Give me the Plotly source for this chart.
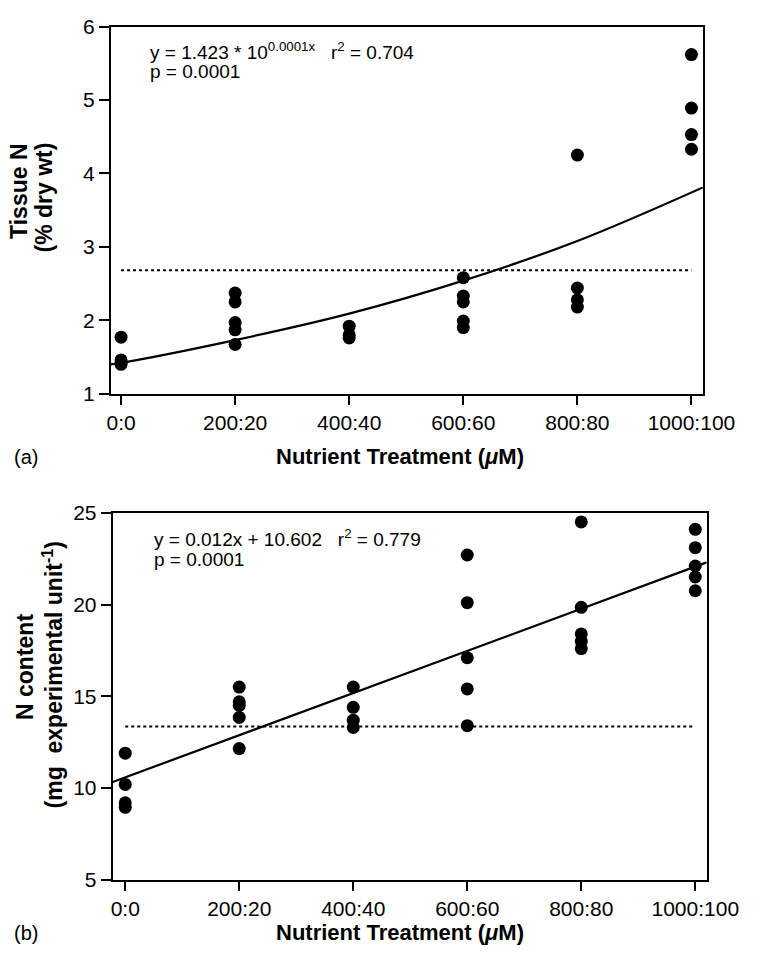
import plotly.graph_objects as go

# ---------------- data ----------------
treat_vals = [0, 200, 400, 600, 800, 1000]
treat_labels = ["0:0", "200:20", "400:40", "600:60", "800:80", "1000:100"]

# panel (a) Tissue N (% dry wt)
a_x = [0, 0, 0, 0,
       200, 200, 200, 200, 200,
       400, 400, 400,
       600, 600, 600, 600, 600,
       800, 800, 800, 800,
       1000, 1000, 1000, 1000]
a_y = [1.77, 1.46, 1.42, 1.40,
       2.37, 2.25, 1.97, 1.87, 1.67,
       1.92, 1.80, 1.76,
       2.58, 2.33, 2.25, 1.99, 1.90,
       4.25, 2.44, 2.28, 2.18,
       5.62, 4.89, 4.53, 4.33]
a_fit_x = [-18, 0, 200, 400, 600, 800, 1020]
a_fit_y = [1.40, 1.42, 1.73, 2.09, 2.54, 3.08, 3.81]
a_ref_x = [0, 1000]
a_ref_y = [2.68, 2.68]

# panel (b) N content (mg experimental unit-1)
b_x = [0, 0, 0, 0,
       200, 200, 200, 200, 200,
       400, 400, 400, 400,
       600, 600, 600, 600, 600,
       800, 800, 800, 800, 800,
       1000, 1000, 1000, 1000, 1000]
b_y = [11.9, 10.2, 9.2, 8.95,
       15.5, 14.7, 14.5, 13.85, 12.15,
       15.5, 14.4, 13.7, 13.3,
       22.7, 20.1, 17.1, 15.4, 13.4,
       24.5, 19.85, 18.4, 18.0, 17.6,
       24.1, 23.1, 22.1, 21.5, 20.75]
b_fit_x = [-22, 1020]
b_fit_y = [10.33, 22.3]
b_ref_x = [0, 1000]
b_ref_y = [13.35, 13.35]

W, H = 773, 965
FONT = "Liberation Sans, Arial, sans-serif"

def px(x):
    return x / W

def py(y):
    return 1 - y / H

fig = go.Figure()

mk = dict(color="black", size=13)
dotted = dict(color="black", width=2, dash="3px,3px")
fig.add_trace(go.Scatter(x=a_ref_x, y=a_ref_y, mode="lines", line=dotted, xaxis="x", yaxis="y"))
fig.add_trace(go.Scatter(x=a_fit_x, y=a_fit_y, mode="lines", line_shape="spline",
                         line=dict(color="black", width=2.2), xaxis="x", yaxis="y"))
fig.add_trace(go.Scatter(x=a_x, y=a_y, mode="markers", marker=mk, xaxis="x", yaxis="y"))

fig.add_trace(go.Scatter(x=b_ref_x, y=b_ref_y, mode="lines", line=dotted, xaxis="x2", yaxis="y2"))
fig.add_trace(go.Scatter(x=b_fit_x, y=b_fit_y, mode="lines",
                         line=dict(color="black", width=2.2), xaxis="x2", yaxis="y2"))
fig.add_trace(go.Scatter(x=b_x, y=b_y, mode="markers", marker=mk, xaxis="x2", yaxis="y2"))

axcommon = dict(showline=True, linecolor="black", linewidth=2, mirror=True,
                ticks="outside", tickwidth=2, tickcolor="black",
                showgrid=False, zeroline=False,
                tickfont=dict(family=FONT, size=21, color="black"))
xax = dict(ticklen=9, **axcommon)
yax = dict(ticklen=10, **axcommon)

fig.update_layout(
    width=W, height=H,
    margin=dict(l=0, r=0, t=0, b=0),
    paper_bgcolor="white", plot_bgcolor="white",
    showlegend=False,
    font=dict(family=FONT, color="black"),
    xaxis=dict(domain=[px(112), px(733)], range=[-18, 1020],
               tickvals=treat_vals, ticktext=treat_labels, anchor="y", **xax),
    yaxis=dict(domain=[py(391), py(15)], range=[1, 6],
               tickvals=[1, 2, 3, 4, 5, 6], anchor="x", **yax),
    xaxis2=dict(domain=[px(114), px(737)], range=[-22, 1020],
                tickvals=treat_vals, ticktext=treat_labels, anchor="y2", **xax),
    yaxis2=dict(domain=[py(889), py(513)], range=[5, 25],
                tickvals=[5, 10, 15, 20, 25], anchor="x2", **yax),
)

ann_font = dict(family=FONT, size=19, color="black")
lab_font = dict(family=FONT, size=20, color="black")
xt_font = dict(family=FONT, size=22, color="black")
yt_font = dict(family=FONT, size=23, color="black")

anns = [
    # equations
    dict(x=px(151), y=py(40), text="y = 1.423 * 10<sup>0.0001x</sup>   r<sup>2</sup> = 0.704",
         xanchor="left", yanchor="middle", font=ann_font),
    dict(x=px(151), y=py(61), text="p = 0.0001", xanchor="left", yanchor="middle", font=ann_font),
    dict(x=px(155), y=py(539), text="y = 0.012x + 10.602   r<sup>2</sup> = 0.779",
         xanchor="left", yanchor="middle", font=ann_font),
    dict(x=px(155), y=py(561), text="p = 0.0001", xanchor="left", yanchor="middle", font=ann_font),
    # x titles
    dict(x=px(415), y=py(455), text="<b>Nutrient Treatment (<i>μ</i>M)</b>",
         xanchor="center", yanchor="middle", font=xt_font),
    dict(x=px(415), y=py(943), text="<b>Nutrient Treatment (<i>μ</i>M)</b>",
         xanchor="center", yanchor="middle", font=xt_font),
    # y titles (one annotation per line)
    dict(x=px(15), y=py(184), text="<b>Tissue N</b>", textangle=-90,
         xanchor="center", yanchor="middle", font=yt_font),
    dict(x=px(42), y=py(190), text="<b>(% dry wt)</b>", textangle=-90,
         xanchor="center", yanchor="middle", font=yt_font),
    dict(x=px(22), y=py(671), text="<b>N content</b>", textangle=-90,
         xanchor="center", yanchor="middle", font=yt_font),
    dict(x=px(51), y=py(679), text="<b>(mg  experimental unit<sup>-1</sup>)</b>",
         textangle=-90, xanchor="center", yanchor="middle", font=yt_font),
    # panel labels
    dict(x=px(8), y=py(456), text="(a)", xanchor="left", yanchor="middle", font=lab_font),
    dict(x=px(8), y=py(943), text="(b)", xanchor="left", yanchor="middle", font=lab_font),
]
for a in anns:
    a.update(xref="paper", yref="paper", showarrow=False)
fig.update_layout(annotations=anns)

fig.write_html("out.html")
